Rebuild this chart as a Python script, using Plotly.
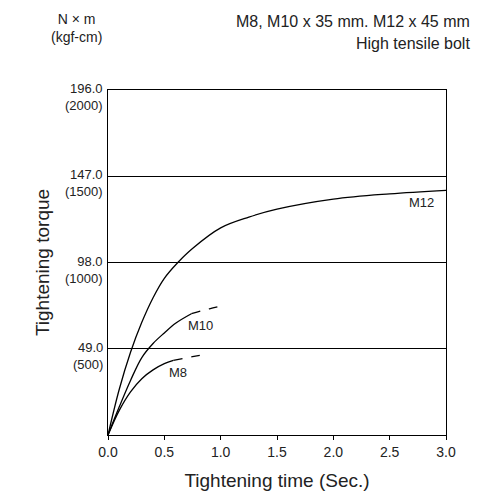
import plotly.graph_objects as go

m12_x = [0, 0.1, 0.2, 0.3, 0.4, 0.5, 0.62, 0.75, 1.0, 1.25, 1.5, 2.0, 2.5, 3.0]
m12_y = [0, 26, 47, 64, 78, 89, 98, 106, 117.7, 123.8, 128.3, 134, 137, 139]
m10_x = [0, 0.1, 0.2, 0.3, 0.4, 0.5, 0.6, 0.74]
m10_y = [0, 16, 31, 44, 52, 58, 63.5, 68.9]
m10d_x = [0.74, 0.9, 1.05]
m10d_y = [68.9, 71.7, 73.8]
m8_x = [0, 0.1, 0.2, 0.3, 0.4, 0.5, 0.58]
m8_y = [0, 14, 24.5, 32, 37, 40.5, 42.4]
m8d_x = [0.58, 0.75, 0.89]
m8d_y = [42.4, 44.5, 46.2]
ytick_vals = [49, 98, 147, 196]
ytick_nm = ["49.0", "98.0", "147.0", "196.0"]
ytick_kgf = ["(500)", "(1000)", "(1500)", "(2000)"]
xtick_vals = [0, 0.5, 1.0, 1.5, 2.0, 2.5, 3.0]

fig = go.Figure()
line = dict(color="black", width=1.3, shape="spline")
dline = dict(color="black", width=1.3, dash="dash", shape="spline")
fig.add_trace(go.Scatter(x=m12_x, y=m12_y, mode="lines", line=line))
fig.add_trace(go.Scatter(x=m10_x, y=m10_y, mode="lines", line=line))
fig.add_trace(go.Scatter(x=m8_x, y=m8_y, mode="lines", line=line))
fig.add_trace(go.Scatter(x=m10d_x, y=m10d_y, mode="lines", line=dline))
fig.add_trace(go.Scatter(x=m8d_x, y=m8d_y, mode="lines", line=dline))

F = "Liberation Sans, Arial"
font = dict(family=F, color="#222", size=13)
ann = []
for v, a, b in zip(ytick_vals, ytick_nm, ytick_kgf):
    ann.append(dict(x=0, xref="paper", y=v, yref="y", text=a + "<br>" + b, showarrow=False,
                    xanchor="right", yanchor="top", xshift=-3, yshift=11, align="right",
                    font=dict(family=F, size=13, color="#222")))
ann += [
    dict(x=2.78, y=132, text="M12", showarrow=False, font=font),
    dict(x=0.82, y=62, text="M10", showarrow=False, font=font),
    dict(x=0.62, y=35.5, text="M8", showarrow=False, font=font),
    dict(x=1, xref="paper", y=1, yref="paper", text="M8, M10 x 35 mm. M12 x 45 mm", showarrow=False,
         xanchor="right", yanchor="middle", yshift=69, xshift=26, font=dict(family=F, size=16, color="#222")),
    dict(x=1, xref="paper", y=1, yref="paper", text="High tensile bolt", showarrow=False,
         xanchor="right", yanchor="middle", yshift=47, xshift=26, font=dict(family=F, size=16, color="#222")),
    dict(x=0, xref="paper", y=1, yref="paper", text="N × m<br>(kgf-cm)", showarrow=False,
         xanchor="right", yanchor="middle", xshift=-4, yshift=62, font=dict(family=F, size=14, color="#222")),
]

fig.update_layout(
    width=485, height=496, margin=dict(l=100, r=47, t=82, b=69),
    paper_bgcolor="white", plot_bgcolor="white", showlegend=False,
    annotations=ann,
    xaxis=dict(range=[0, 3], tickvals=xtick_vals, tickformat=".1f", showgrid=False,
               showline=True, linecolor="black", mirror=True, ticks="outside", ticklen=4,
               tickcolor="black", tickfont=dict(family=F, size=14, color="#222"),
               title=dict(text="Tightening time (Sec.)", font=dict(family=F, size=19, color="#222"), standoff=14)),
    yaxis=dict(range=[0, 196], tickvals=ytick_vals, showticklabels=False, showgrid=True,
               gridcolor="black", gridwidth=1.2, showline=True, linecolor="black", mirror=True,
               title=dict(text="Tightening torque", font=dict(family=F, size=19, color="#222"), standoff=52)),
)
fig.write_html("out.html")
